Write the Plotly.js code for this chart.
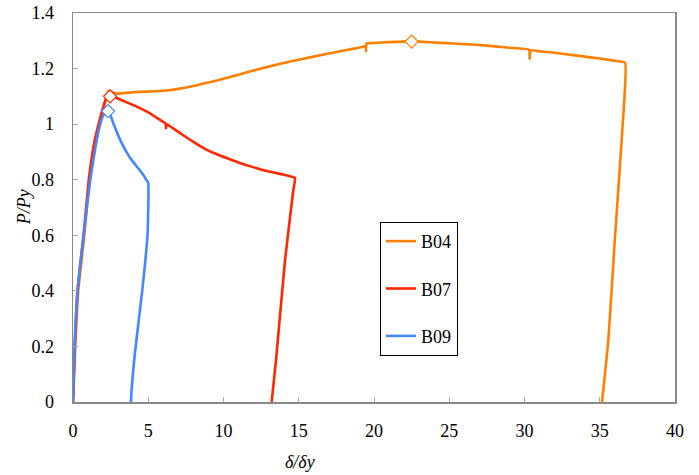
<!DOCTYPE html>
<html>
<head>
<meta charset="utf-8">
<script src="https://cdn.plot.ly/plotly-3.0.1.min.js"></script>
<style>html,body{margin:0;padding:0;background:#fff;}#chart{width:699px;height:475px;}</style>
</head>
<body>
<div id="chart"></div>
<script>
// B04 series
const b04X = [0, 0.15, 0.35, 0.75, 1.1, 1.45, 1.8, 2.1, 2.35, 2.9, 4.0, 5.0, 6.0, 7.0, 8.0, 9.0, 10.0, 11.0, 12.0, 13.0, 14.0, 15.0, 16.0, 17.0, 18.0, 19.0, 19.45, 19.47, 19.5, 20.0, 21.0, 22.0, 23.0, 24.0, 25.0, 26.0, 27.0, 28.0, 29.0, 30.3, 30.35, 30.4, 31.0, 32.0, 33.0, 34.0, 35.0, 36.0, 36.68, 36.6, 36.0, 35.57, 35.15];
const b04Y = [0, 0.2, 0.4, 0.6, 0.8, 0.92, 1.0, 1.07, 1.12, 1.11, 1.115, 1.117, 1.12, 1.127, 1.137, 1.15, 1.163, 1.178, 1.193, 1.207, 1.22, 1.232, 1.243, 1.254, 1.265, 1.275, 1.28, 1.262, 1.29, 1.292, 1.295, 1.297, 1.297, 1.294, 1.291, 1.288, 1.285, 1.28, 1.275, 1.268, 1.235, 1.266, 1.262, 1.257, 1.25, 1.243, 1.236, 1.228, 1.221, 1.06, 0.583, 0.223, 0];
// B07 series
const b07X = [0, 0.12, 0.3, 0.7, 1.05, 1.4, 1.7, 2.0, 2.25, 2.46, 2.9, 3.5, 4.2, 5.0, 5.78, 6.15, 6.18, 6.22, 6.7, 7.3, 8.0, 8.8, 9.77, 10.5, 11.1, 11.8, 12.4, 13.1, 13.75, 14.3, 14.75, 14.64, 14.09, 13.49, 13.2];
const b07Y = [0, 0.2, 0.4, 0.6, 0.8, 0.93, 1.0, 1.06, 1.1, 1.105, 1.094, 1.08, 1.064, 1.042, 1.015, 1.003, 0.985, 1.0, 0.983, 0.961, 0.936, 0.91, 0.887, 0.872, 0.86, 0.848, 0.838, 0.829, 0.821, 0.814, 0.806, 0.763, 0.511, 0.151, 0];
// B09 series
const b09X = [0, 0.1, 0.3, 0.7, 1.15, 1.5, 1.8, 2.05, 2.33, 2.5, 2.7, 3.0, 3.27, 3.55, 3.8, 4.1, 4.4, 4.7, 4.9, 5.0, 4.95, 4.6, 4.1, 3.9, 3.85];
const b09Y = [0, 0.2, 0.4, 0.6, 0.8, 0.92, 1.0, 1.035, 1.047, 1.03, 1.0, 0.96, 0.928, 0.9, 0.878, 0.857, 0.837, 0.815, 0.797, 0.788, 0.6, 0.4, 0.17, 0.05, 0];
// peak markers
const peakX = {B04: 22.5, B07: 2.46, B09: 2.33};
const peakY = {B04: 1.297, B07: 1.10, B09: 1.047};

const names = ['B04', 'B07', 'B09'];
const xs = [b04X, b07X, b09X];
const ys = [b04Y, b07Y, b09Y];
const colors = ['#FF8000', '#FF2600', '#4287FF'];

const traces = [];
names.forEach((n, i) => {
  traces.push({
    x: xs[i], y: ys[i], name: n, type: 'scatter', mode: 'lines',
    line: {color: colors[i], width: 2.6, shape: 'spline', smoothing: 0.4},
    legendgroup: n
  });
});
names.forEach((n, i) => {
  traces.push({
    x: [peakX[n]], y: [peakY[n]], type: 'scatter', mode: 'markers',
    showlegend: false, hoverinfo: 'skip',
    marker: {symbol: 'diamond', size: 10, color: '#fff', line: {color: colors[i], width: 1.2}}
  });
});

const serif = 'Liberation Serif';

const layout = {
  width: 699, height: 475,
  margin: {l: 73, r: 24, t: 13, b: 73},
  paper_bgcolor: '#fff', plot_bgcolor: '#fff',
  font: {family: serif, size: 18, color: '#000'},
  showlegend: true,
  xaxis: {
    range: [0, 40], tick0: 0, dtick: 5, ticklabelstandoff: 12,
    showline: true, mirror: true, linecolor: '#8a8a8a', linewidth: 1.5,
    ticks: 'inside', ticklen: 5, tickcolor: '#aaaaaa', tickwidth: 1,
    showgrid: false, zeroline: false,
    tickfont: {family: serif, size: 18, color: '#000'}
  },
  yaxis: {
    range: [0, 1.4], tick0: 0, dtick: 0.2, ticklabelstandoff: 14,
    showline: true, mirror: true, linecolor: '#8a8a8a', linewidth: 1.5,
    ticks: 'inside', ticklen: 5, tickcolor: '#aaaaaa', tickwidth: 1,
    showgrid: false, zeroline: false,
    tickfont: {family: serif, size: 18, color: '#000'}
  },
  legend: {
    x: 0.51, y: 0.463, xanchor: 'left', yanchor: 'top',
    bordercolor: '#000', borderwidth: 1, bgcolor: '#fff',
    font: {family: serif, size: 18, color: '#000'}, traceorder: 'grouped', tracegroupgap: 21
  },
  annotations: [
    {text: '<i>δ/δy</i>', xref: 'paper', yref: 'paper', x: 0.377, y: -0.154,
     xanchor: 'center', yanchor: 'middle', showarrow: false, font: {family: serif, size: 18, color: '#000'}},
    {text: '<i>P/Py</i>', xref: 'paper', yref: 'paper', x: -0.082, y: 0.5, textangle: -90,
     xanchor: 'center', yanchor: 'middle', showarrow: false, font: {family: serif, size: 18, color: '#000'}}
  ]
};

Plotly.newPlot('chart', traces, layout, {displayModeBar: false, staticPlot: true});
</script>
</body>
</html>
